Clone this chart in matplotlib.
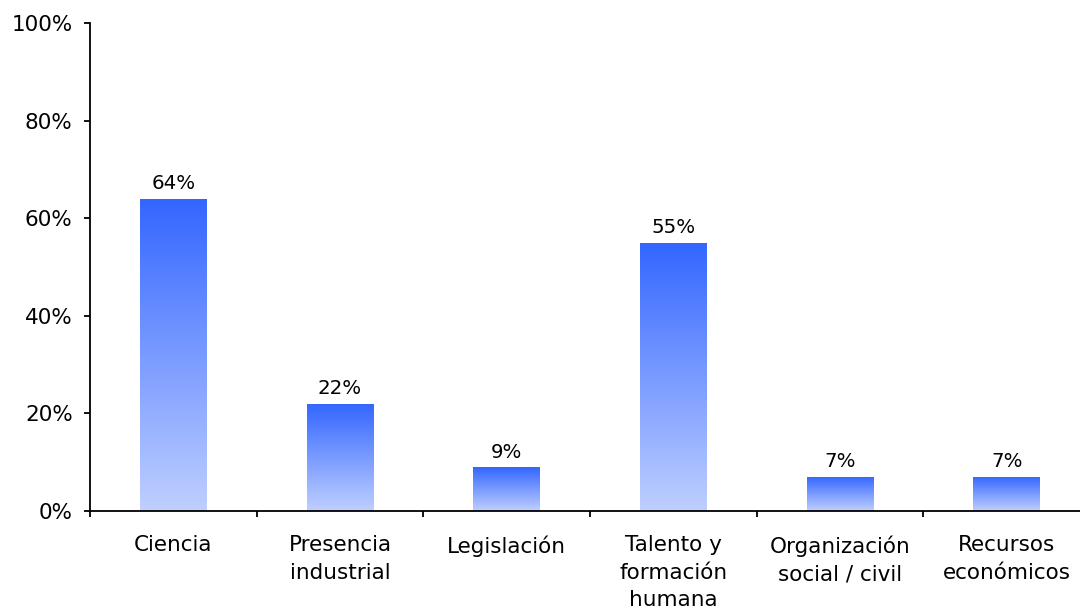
import numpy as np
import matplotlib
matplotlib.use("Agg")
import matplotlib.pyplot as plt
from matplotlib.colors import LinearSegmentedColormap
from matplotlib.ticker import FixedLocator, PercentFormatter

categories = ["Ciencia", "Presencia\nindustrial", "Legislación",
              "Talento y\nformación\nhumana", "Organización\nsocial / civil",
              "Recursos\neconómicos"]
values = [64, 22, 9, 55, 7, 7]
y_ticks = [0, 20, 40, 60, 80, 100]

plt.rcParams["font.family"] = ["DejaVu Sans"]

fig = plt.figure(figsize=(10.8, 6.09), dpi=100)
ax = fig.add_axes([90 / 1080, 1 - 511 / 609, 1000 / 1080, (511 - 23) / 609])

x = np.arange(len(categories))
bars = ax.bar(x, values, width=0.4, facecolor="none", edgecolor="none")

# vertical blue gradient inside every bar
grad_cmap = LinearSegmentedColormap.from_list("blue_fade", ["#BFCFFF", "#3366FF"])
grad = np.linspace(0, 1, 256).reshape(-1, 1)
for b in bars:
    x0, y0 = b.get_x(), b.get_y()
    w, h = b.get_width(), b.get_height()
    im = ax.imshow(grad, cmap=grad_cmap, origin="lower", aspect="auto",
                   extent=(x0, x0 + w, y0, y0 + h), zorder=2)
    im.set_clip_path(b)

for b, v in zip(bars, values):
    ax.annotate(f"{v}%", (b.get_x() + b.get_width() / 2, b.get_height()),
                xytext=(0, 4), textcoords="offset points",
                ha="center", va="bottom", fontsize=14.2, color="#000000")

ax.set_xlim(-0.5, len(categories) - 0.5)
ax.set_ylim(0, 100)

ax.yaxis.set_major_locator(FixedLocator(y_ticks))
ax.yaxis.set_major_formatter(PercentFormatter(decimals=0))
ax.tick_params(axis="y", direction="out", length=4.5, width=1.3, pad=8,
               labelsize=15.5, colors="#000000")

ax.set_xticks(x)
ax.set_xticklabels(categories, fontsize=15.5, linespacing=1.45, color="#000000")
ax.set_xticks(np.arange(len(categories) + 1) - 0.5, minor=True)
ax.tick_params(axis="x", which="major", length=0, pad=17.5)
ax.tick_params(axis="x", which="minor", direction="out", length=4.5, width=1.3)

for side in ("top", "right"):
    ax.spines[side].set_visible(False)
for side in ("left", "bottom"):
    ax.spines[side].set_linewidth(1.3)
    ax.spines[side].set_color("#000000")

fig.savefig("out.png", dpi=100)
